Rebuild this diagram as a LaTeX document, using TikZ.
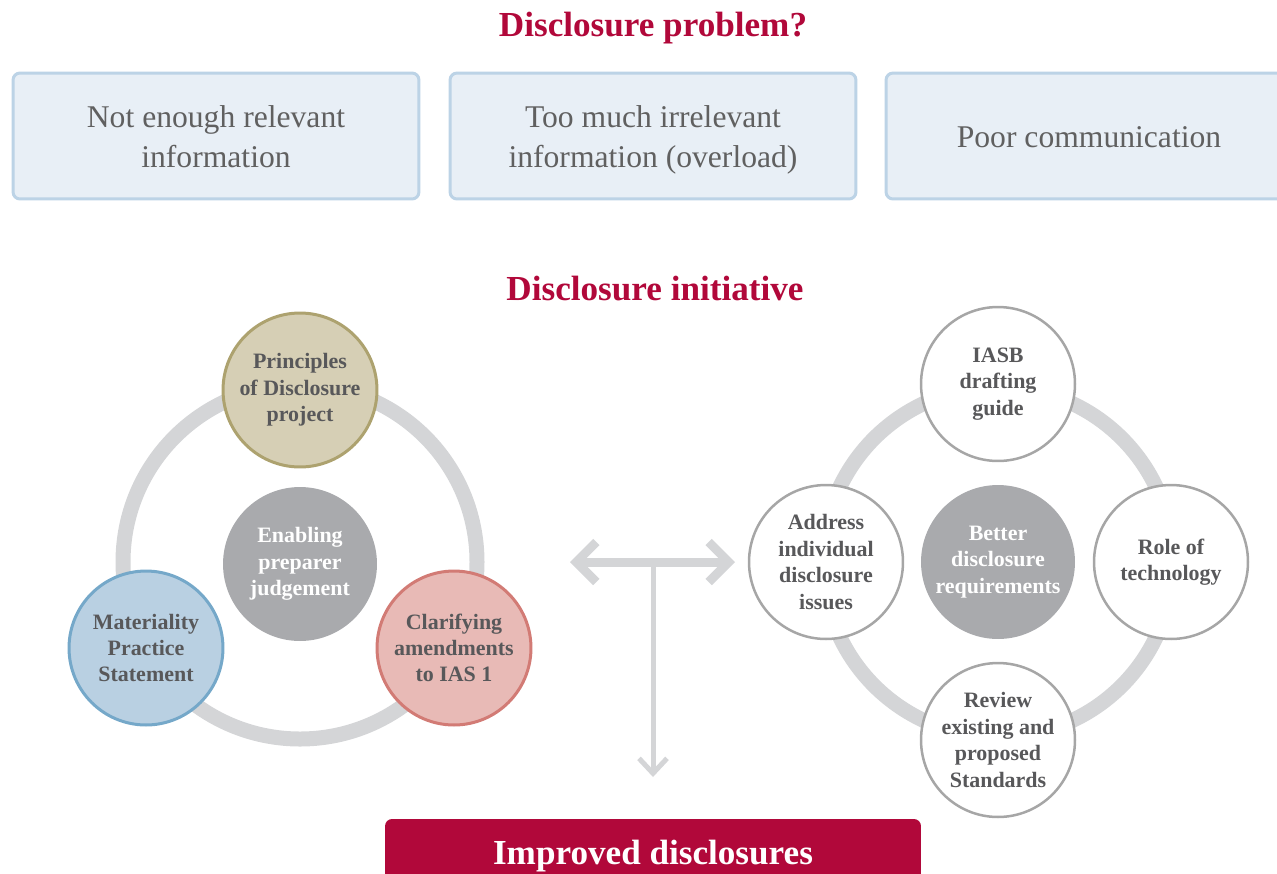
\documentclass[tikz,border=0pt]{standalone}
\usepackage{fontspec}
\setmainfont{Liberation Serif}
\usetikzlibrary{arrows.meta,positioning}
\definecolor{crimson}{HTML}{B1083A}
\definecolor{boxfill}{HTML}{E8EFF6}
\definecolor{boxline}{HTML}{BCD3E6}
\definecolor{boxtext}{HTML}{606060}
\definecolor{ringgray}{HTML}{D4D5D7}
\definecolor{hubgray}{HTML}{A9AAAD}
\definecolor{nodetext}{HTML}{58585A}
\definecolor{rimgray}{HTML}{A6A6A6}
\definecolor{sandfill}{HTML}{D6CFB5}
\definecolor{sandline}{HTML}{ADA26F}
\definecolor{bluefill}{HTML}{B9D0E2}
\definecolor{blueline}{HTML}{75A8C9}
\definecolor{rosefill}{HTML}{E8BAB6}
\definecolor{roseline}{HTML}{D27B75}
\newcommand{\boxstrut}{\rule[-6.8pt]{0pt}{26.7pt}}

\begin{document}
\begin{tikzpicture}[x=0.02cm,y=-0.02cm,
    heading/.style={text=crimson,font=\bfseries\fontsize{20}{24}\selectfont},
    probbox/.style={draw=boxline,fill=boxfill,line width=0.06cm,rounded corners=0.14cm,
        minimum width=8.12cm,minimum height=2.52cm,align=center,text=boxtext,
        font=\fontsize{18}{22.7}\selectfont},
    disc/.style={circle,minimum size=3.08cm,inner sep=0pt,align=center,text=nodetext,
        font=\bfseries\fontsize{12.5}{15}\selectfont},
    hub/.style={disc,fill=hubgray,text=white},
    spoke/.style={disc,draw=rimgray,fill=white,line width=0.05cm},
    ring/.style={draw=ringgray,line width=0.3cm},
    pointer/.style={draw=ringgray}
]
    \useasboundingbox (0,0) rectangle (1277,873);
    \clip (0,0) rectangle (1277,873);

    % Problem
    \node[heading] (hProb) at (653,28) {Disclosure problem?};
    \node[probbox] (pbA) at (216,136) {\boxstrut Not enough relevant\\\strut information};
    \node[probbox] (pbB) at (653,136) {\boxstrut Too much irrelevant\\\strut information (overload)};
    \node[probbox] (pbC) at (1089,136) {\boxstrut Poor communication};

    % Initiative
    \node[heading] (hInit) at (655,289) {Disclosure initiative};

    % Left cycle
    \coordinate (ringL) at (300,562);
    \draw[ring] (ringL) circle[radius=177];
    \node[hub] (cE) at (300,564) {Enabling\\preparer\\judgement};
    \node[disc,draw=sandline,fill=sandfill,line width=0.06cm] (cP) at (300,390) {Principles\\of Disclosure\\project};
    \node[disc,draw=blueline,fill=bluefill,line width=0.06cm] (cM) at (146,648) {Materiality\\Practice\\Statement};
    \node[disc,draw=roseline,fill=rosefill,line width=0.06cm] (cC) at (454,648) {Clarifying\\amendments\\to IAS 1};

    % Right cycle
    \coordinate (ringR) at (998,562);
    \draw[ring] (ringR) circle[radius=175];
    \node[hub] (rB) at (ringR) {Better\\disclosure\\requirements};
    \node[spoke] (rI) at (998,384) {IASB\\drafting\\guide};
    \node[spoke] (rA) at (826,562) {Address\\individual\\disclosure\\issues};
    \node[spoke] (rR) at (1171,562) {Role of\\technology};
    \node[spoke] (rV) at (998,740) {Review\\existing and\\proposed\\Standards};

    % Arrows
    \coordinate (hL) at (570,562);
    \coordinate (hR) at (735,562);
    \coordinate (hM) at (653,562);
    \coordinate (hD) at (653,777);
    \draw[pointer,line width=0.18cm,{Straight Barb[sharp,length=0.4cm,width=0.8cm]}-{Straight Barb[sharp,length=0.4cm,width=0.8cm]}] (hL) -- (hR);
    \draw[pointer,line width=0.1cm,-{Straight Barb[sharp,length=0.3cm,width=0.56cm]}] (hM) -- (hD);

    % Result
    \node[fill=crimson,rounded corners=0.14cm,minimum width=10.72cm,minimum height=1.48cm,
        text=white,font=\bfseries\fontsize{20}{24}\selectfont] (res) at (653,856) {Improved disclosures};
\end{tikzpicture}
\end{document}
